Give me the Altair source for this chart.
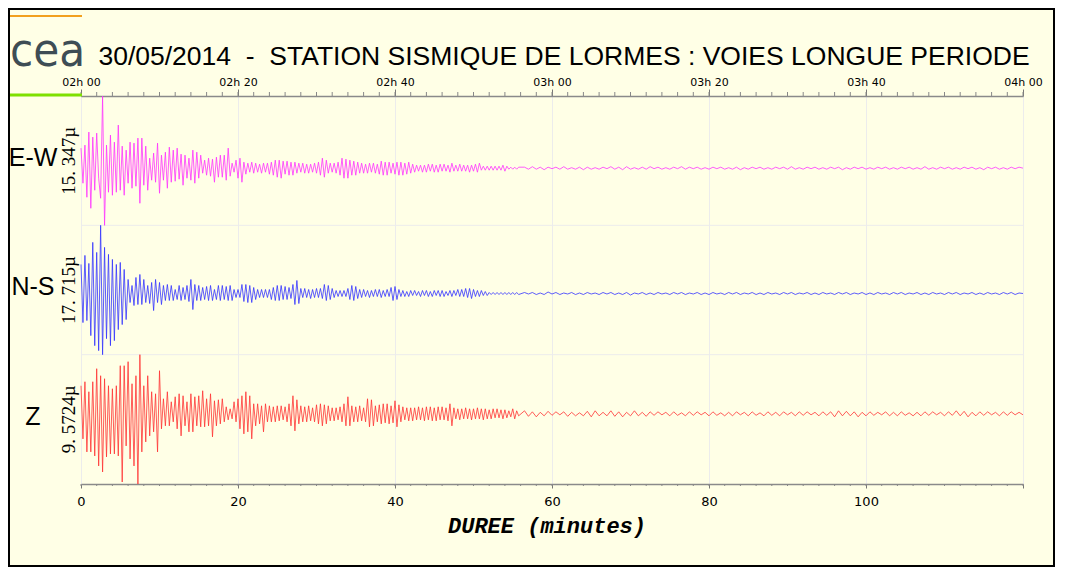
import altair as alt
import pandas as pd

# ---------------- data ----------------
# samples every 0.25 min from 0 to 55.75 min, then every 0.5 min from 56.5 to 120 min
HEAD_STEP = 0.25
TAIL_START = 56.5
TAIL_STEP = 0.5

ew_head = [
    20, -15, 23, -29,  36, -40, 31, -22,  35, -10, -30, 72,  -57, 23, -24, 33,
    -27, 26, -24, 43,  -22, 22, -27, 18,  -15, 26, -20, 25,  -18, 30, -35, 30,
    -17, 22, -22, 10,  -12, 15, -14, 25,  -25, 13, -12, 16,  -20, 21, -14, 18,
    -13, 20, -11, 14,  -17, 13, -10, 10,  -12, 18, -15, 16,  -10, 13, -5, 8,
    -7, 10, -8, 9,  -14, 11, -9, 13,  -9, 13, -12, 20,  -8, 5, -4, 8,
    -10, 10, -14, 6,  -6, 5, -4, 6,  -5, 5, -4, 4,  -5, 5, -4, 5,
    -6, 6, -7, 8,  -9, 8, -10, 7,  -6, 7, -7, 6,  -7, 6, -5, 5,
    -4, 5, -5, 4,  -5, 4, -4, 5,  -5, 6, -7, 10,  -9, 8, -5, 5,
    -4, 5, -5, 6,  -7, 10, -10, 9,  -10, 8, -7, 7,  -7, 6, -5, 5,
    -5, 4, -5, 5,  -4, 5, -5, 4,  -6, 7, -7, 6,  -7, 6, -5, 5,
    -6, 6, -7, 6,  -7, 5, -6, 6,  -5, 4, -4, 3,  -3, 3, -4, 3,
    -4, 4, -3, 4,  -4, 3, -4, 4,  -3, 4, -3, 3,  -4, 5, -3, 3,
    -3, 4, -3, 3,  -3, 3, -4, 3,  -3, 4, -4, 5,  -2, 2, -2, 2,
    -2, 2, -2, 2,  -2, 2, -2, 3,  -3, 2, -1, 1,  -1, 1, -1, 1,
]
ew_tail = [
    1, -1, 1.5, -1, 1, -1.5, 1, -0.5, 1, -1, 1.5, -1, 0.5, -1, 1, -1.5, 1, -1, 0.5, -1, 1, -0.5, 1.5, -1,
    1, -1.5, 1.5, -1, 0.5, -1, 1, -1, 1.5, -0.5, 1, -1, 0.5, -1, 1, -0.5, 1.5, -1, 1, -0.5, 1, -1, 0.5, -1,
    1, -0.5, 1, -1, 0.5, -1, 1, -1.5, 0.5, -1, 1, -0.5, 1, -1, 0.5, -1, 1, -0.5, 1, -1, 1.5, -1, 0.5, -1,
    1, -0.5, 1, -1, 0.5, -1, 1, -0.5, 1, -1.5, 0.5, -1, 1, -0.5, 1, -1, 0.5, -1, 1, -0.5, 1, -1, 0.5, -1,
    1, -0.5, 1, -1, 0.5, -1, 1.5, -1, 0.5, -1, 1, -0.5, 1, -1, 0.5, -1, 1, -0.5, 1, -1, 0.5, -1.5, 1, -0.5,
    1, -1, 0.5, -1, 1, -0.5, 1, 0,
]

ns_head = [
    29, -29, 38, -27,  30, -42, 51, -52,  41, -57, 68, -61,  46, -45, 39, -52,
    34, -47, 29, -36,  31, -31, 24, -26,  14, -9, 8, -12,  16, -11, 19, -11,
    14, -9, 8, -10,  11, -17, 14, -9,  11, -11, 8, -7,  9, -7, 8, -7,
    4, -6, 8, -7,  6, -6, 8, -8,  14, -16, 9, -7,  8, -7, 6, -6,
    7, -7, 8, -7,  4, -6, 8, -7,  8, -6, 7, -7,  8, -7, 4, -4,
    4, -4, 9, -8,  9, -9, 8, -9,  6, -6, 4, -4,  4, -4, 4, -4,
    4, -6, 6, -7,  8, -7, 8, -6,  7, -6, 6, -5,  9, -11, 13, -10,
    5, -4, 5, -4,  4, -5, 4, -4,  5, -4, 5, -5,  9, -7, 8, -6,
    5, -4, 3, -3,  3, -3, 3, -3,  5, -6, 8, -7,  7, -5, 4, -4,
    4, -3, 3, -4,  3, -3, 4, -3,  4, -4, 3, -3,  4, -3, 6, -7,
    7, -6, 4, -3,  3, -3, 2, -3,  3, -2, 3, -2,  2, -3, 3, -2,
    3, -3, 2, -3,  3, -2, 3, -3,  3, -3, 2, -2,  3, -3, 3, -2,
    4, -3, 4, -3,  5, -4, 5, -5,  4, -3, 3, -3,  3, -2, 2, -2,
    1, -1, 1, -1,  1, -1, 1, -1,  1, -1, 1, -1,  1, -1, 1, -1,
]
ns_tail = [
    1, -0.5, 1, -1, 0.5, -1, 1.5, -0.5, 1, -1, 0.5, -0.5, 1, -1, 0.5, -1, 1, -0.5, 0.5, -1, 1, -0.5, 1, -1,
    0.5, -1, 1, -1.5, 0.5, -0.5, 1, -1, 0.5, -1, 1, -0.5, 0.5, -1, 1, -0.5, 1, -1, 0.5, -0.5, 1, -1, 0.5, -1,
    1, -0.5, 0.5, -1, 1, -0.5, 1, -1, 0.5, -0.5, 1, -1, 0.5, -1, 1, -0.5, 0.5, -1, 1, -0.5, 1, -1, 0.5, -0.5,
    1, -1, 0.5, -1, 1, -0.5, 0.5, -1, 1, -0.5, 1, -1, 0.5, -0.5, 1, -1, 0.5, -1, 1, -0.5, 0.5, -1, 1, -0.5,
    1, -1, 0.5, -0.5, 1, -1, 0.5, -1, 1, -0.5, 0.5, -1, 1, -0.5, 1, -1, 0.5, -0.5, 1, -1, 0.5, -1, 1, -0.5,
    0.5, -1, 1, -0.5, 1, -1, 0.5, 0,
]

z_head = [
    28, -25, 32, -38,  22, -38, 32, -42,  45, -52, 38, -58,  35, -43, 28, -40,
    25, -40, 28, -42,  48, -68, 48, -32,  52, -45, 30, -52,  38, -70, 59, -38,
    28, -28, 38, -22,  22, -18, 20, -38,  43, -15, 15, -12,  22, -12, 12, -8,
    17, -15, 20, -22,  18, -12, 12, -18,  20, -18, 17, -12,  18, -13, 23, -13,
    15, -12, 20, -23,  13, -12, 14, -10,  15, -8, 7, -6,  5, -5, 12, -8,
    15, -15, 18, -20,  22, -18, 18, -25,  10, -12, 10, -10,  8, -18, 10, -8,
    8, -8, 7, -8,  8, -7, 8, -6,  7, -8, 10, -12,  18, -17, 14, -10,
    8, -8, 7, -8,  8, -7, 6, -8,  9, -10, 10, -12,  9, -10, 8, -7,
    6, -7, 6, -6,  7, -8, 10, -12,  17, -12, 8, -8,  7, -8, 8, -7,
    6, -8, 15, -13,  14, -12, 8, -8,  9, -10, 10, -9,  10, -10, 8, -9,
    13, -13, 9, -8,  7, -6, 6, -7,  6, -7, 6, -6,  7, -6, 6, -7,
    7, -6, 7, -7,  6, -7, 7, -6,  7, -6, 6, -7,  10, -12, 6, -5,
    5, -6, 5, -5,  6, -5, 5, -6,  5, -5, 6, -5,  5, -6, 5, -5,
    4, -5, 5, -4,  5, -4, 4, -5,  4, -4, 3, -3,  5, -5, 3, -2,
]
z_tail = [
    3, -2.5, 2, -3, 1.5, -2, 2.5, -1.5, 2, -1, 2, -2.5, 1.5, -2, 1, -2, 2.5, -3, 3, -2, 1.5, -2, 3, -2.5,
    2, -3, 1.5, -2, 3, -2, 1.5, -2.5, 2, -1.5, 2, -1, 1.5, -2, 2, -1.5, 1, -2, 2, -1.5, 2, -1, 1.5, -2,
    2, -1.5, 1, -2, 1.5, -2, 2, -1, 1.5, -2, 2, -1.5, 1, -2, 2, -1.5, 1.5, -2, 2, -1, 1.5, -2, 2, -1.5,
    2, -1, 1.5, -2, 2, -1.5, 2, -3, 3, -2, 2.5, -2, 2, -3, 1.5, -2, 2, -1.5, 1.5, -1, 2, -2, 1.5, -2,
    2, -1.5, 1, -2, 1.5, -2, 2, -1.5, 2, -1, 1.5, -2, 2, -1.5, 3, -2, 2.5, -3, 1.5, -2, 2, -1.5, 2, -1,
    1.5, -2, 2, -1.5, 2, -1, 1.5, -1,
]

channels = ["E-W", "N-S", "Z"]
scale_labels = ["15. 347\u00b5", "17. 715\u00b5", "9. 5724\u00b5"]
colors = ["#ff33ff", "#3333ff", "#ff3333"]

x_major = [0, 20, 40, 60, 80, 100, 120]
x_minor = list(range(0, 121, 2))
bottom_labels = ["0", "20", "40", "60", "80", "100", ""]
top_labels = ["02h 00", "02h 20", "02h 40", "03h 00", "03h 20", "03h 40", "04h 00"]

title_text = "30/05/2014\u00a0\u00a0-\u00a0\u00a0STATION SISMIQUE DE LORMES : VOIES LONGUE PERIODE"
x_title = "DUREE (minutes)"

# ---------------- helpers ----------------
W, H = 942, 388
BAND = H / 3.0


def make_df(head, tail):
    t = [i * HEAD_STEP for i in range(len(head))] + [TAIL_START + TAIL_STEP * j for j in range(len(tail))]
    return pd.DataFrame({"t": t, "v": head + tail})


def label_expr(values, labels):
    expr = "''"
    for v, l in reversed(list(zip(values, labels))):
        expr = f"datum.value == {v} ? '{l}' : ({expr})"
    return expr


xscale = alt.Scale(domain=[0, 120], nice=False, zero=False)
one = alt.Data(values=[{}])
GRID = "#ececec"

bottom_axis = alt.Axis(
    orient="bottom", values=x_major, labelExpr=label_expr(x_major, bottom_labels),
    tickSize=4, tickColor="#777777", domainColor="#8a8a8a", domainWidth=1.5,
    labelFont="DejaVu Sans", labelFontSize=13, labelColor="black", labelPadding=7,
    labelFlush=False, labelOverlap=False, grid=True, gridColor=GRID, gridWidth=1,
    title=None,
)
top_axis = alt.Axis(
    orient="top", values=x_major, labelExpr=label_expr(x_major, top_labels),
    tickSize=7, tickColor="#777777", domainColor="#8a8a8a", domainWidth=1.5,
    labelFont="DejaVu Sans", labelFontSize=11, labelColor="black", labelPadding=2,
    labelFlush=False, labelOverlap=False, grid=False, title=None,
)

layers = []

# bottom axis + vertical grid, with minor ticks
minor_df = pd.DataFrame({"t": x_minor})
layers.append(
    alt.Chart(minor_df).mark_rule(color="#888888", strokeWidth=1).encode(
        x=alt.X("t:Q", scale=xscale, axis=bottom_axis),
        y=alt.value(H), y2=alt.value(H + 2),
    )
)
layers.append(
    alt.Chart(minor_df).mark_rule(color="#888888", strokeWidth=1).encode(
        x=alt.X("t:Q", scale=xscale, axis=top_axis),
        y=alt.value(-4), y2=alt.value(0),
    )
)
# horizontal band separators
for k in (1, 2):
    layers.append(
        alt.Chart(one).mark_rule(color=GRID, strokeWidth=1).encode(
            x=alt.value(0), x2=alt.value(W), y=alt.value(BAND * k)
        )
    )

# traces
heads = [ew_head, ns_head, z_head]
tails = [ew_tail, ns_tail, z_tail]
for k in range(3):
    df = make_df(heads[k], tails[k])
    layers.append(
        alt.Chart(df).mark_line(color=colors[k], strokeWidth=0.8, strokeJoin="round").encode(
            x=alt.X("t:Q", scale=xscale, axis=None),
            y=alt.Y("v:Q", scale=alt.Scale(range=[BAND * (k + 1), BAND * k], nice=False, zero=False), axis=None),
        )
    )


def text(txt, x, y, **kw):
    return alt.Chart(one).mark_text(text=txt, **kw).encode(x=alt.value(x), y=alt.value(y))


# channel names and scale values
name_y = [70, 199, 329]
for k in range(3):
    layers.append(text(channels[k], -48, name_y[k], font="Liberation Sans", fontSize=25,
                       align="center", baseline="alphabetic", color="black"))
    layers.append(text(scale_labels[k], -12.5, BAND * k + BAND / 2, font="Liberation Serif", fontSize=19,
                       angle=270, align="center", baseline="middle", color="black"))

# title, logo, decorative lines
layers.append(text(title_text, 483, -31, font="Liberation Sans", fontSize=26.5,
                   align="center", baseline="alphabetic", color="black"))
layers.append(text("cea", -71, -30, font="Liberation Sans Narrow, DejaVu Sans Condensed, sans-serif",
                   fontSize=47, align="left", baseline="alphabetic", color="#3e4d55"))
layers.append(alt.Chart(one).mark_rule(color="#f2a01e", strokeWidth=2).encode(
    x=alt.value(-71), x2=alt.value(1), y=alt.value(-80)))
layers.append(alt.Chart(one).mark_rule(color="#7fe000", strokeWidth=3).encode(
    x=alt.value(-71), x2=alt.value(1), y=alt.value(-1)))

# x-axis title
layers.append(text(x_title, 466, 437, font="Liberation Mono", fontSize=22, fontWeight="bold",
                   fontStyle="italic", align="center", baseline="alphabetic", color="black"))

# outer border
layers.append(alt.Chart(one).mark_rect(fillOpacity=0, stroke="black", strokeWidth=2).encode(
    x=alt.value(-72), x2=alt.value(W + 31), y=alt.value(-87), y2=alt.value(H + 82)))

chart = alt.layer(*layers).resolve_scale(y="independent").resolve_axis(x="independent").properties(
    width=W, height=H,
    padding={"left": 73, "top": 88, "right": 32, "bottom": 83},
    autosize=alt.AutoSizeParams(type="none"),
    background="#ffffe6",
).configure_view(stroke="transparent")

chart.save("out.html", embed_options={"renderer": "svg", "actions": False})
